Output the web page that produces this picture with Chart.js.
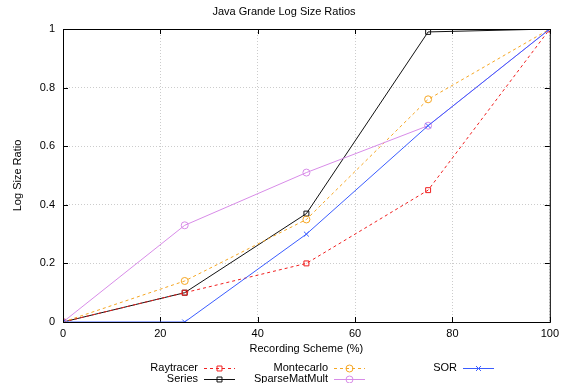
<!DOCTYPE html>
<html>
<head>
<meta charset="utf-8">
<script src="https://cdn.jsdelivr.net/npm/chart.js@4.4.0/dist/chart.umd.min.js"></script>
<style>
  html, body { margin: 0; padding: 0; background: #fff; }
  #wrap { width: 564px; height: 383px; }
</style>
</head>
<body>
<div id="wrap"><canvas id="chart1" width="564" height="383"></canvas></div>
<script>
// recording scheme (%) on x, log size ratio on y
const schemes = [0, 25, 50, 75, 100];
const raytracer = [0, 0.10, 0.20, 0.45, 1];
const series = [0, 0.10, 0.37, 0.99, 1];
const montecarlo = [0, 0.14, 0.35, 0.76, 1];
const sparseMatMult = [0, 0.33, 0.51, 0.67, 1];
const sor = [0, 0, 0.30, 0.67, 1];
const xTicks = [0, 20, 40, 60, 80, 100];
const yTicks = [0, 0.2, 0.4, 0.6, 0.8, 1];

const FONT = "'Liberation Sans', Arial, sans-serif";

function pts(ys) {
  return ys.map((y, i) => ({ x: schemes[i], y: y }));
}

function ds(label, ys, color, style, dashed, legend) {
  return {
    label: label,
    data: pts(ys),
    borderColor: color,
    backgroundColor: 'rgba(0,0,0,0)',
    borderWidth: 1,
    borderDash: dashed ? [3, 3] : [],
    pointStyle: style,
    pointRadius: 3.5,
    pointBorderWidth: 1,
    pointBorderColor: color,
    pointBackgroundColor: 'rgba(0,0,0,0)',
    tension: 0,
    legendPos: legend
  };
}

// legend slots gnuplot-style: text right aligned, then a sample line
const datasets = [
  ds('SOR', sor, '#3a5cff', 'crossRot', false, { tx: 457, y: 368 }),
  ds('SparseMatMult', sparseMatMult, '#d88ce8', 'circle', false, { tx: 328, y: 379 }),
  ds('Montecarlo', montecarlo, '#f5a623', 'circle', true, { tx: 328, y: 368 }),
  ds('Raytracer', raytracer, '#f02020', 'rect', true, { tx: 198, y: 368 }),
  ds('Series', series, '#111111', 'rect', false, { tx: 198, y: 379 })
];

const decor = {
  id: 'decor',
  beforeDatasetsDraw(chart) {
    const { ctx, chartArea: a, scales } = chart;
    ctx.save();
    // inward tick marks on all four sides
    ctx.strokeStyle = '#000';
    ctx.lineWidth = 1;
    ctx.beginPath();
    xTicks.forEach(v => {
      const x = Math.round(scales.x.getPixelForValue(v)) + 0.5;
      ctx.moveTo(x, a.bottom); ctx.lineTo(x, a.bottom - 5);
      ctx.moveTo(x, a.top); ctx.lineTo(x, a.top + 5);
    });
    yTicks.forEach(v => {
      const y = Math.round(scales.y.getPixelForValue(v)) + 0.5;
      ctx.moveTo(a.left, y); ctx.lineTo(a.left + 5, y);
      ctx.moveTo(a.right, y); ctx.lineTo(a.right - 5, y);
    });
    ctx.stroke();
    ctx.restore();
  },
  afterDraw(chart) {
    const { ctx, chartArea: a } = chart;
    ctx.save();
    ctx.fillStyle = '#000';
    ctx.font = '11px ' + FONT;
    ctx.textAlign = 'center';
    ctx.textBaseline = 'middle';
    ctx.fillText('Java Grande Log Size Ratios', 284, 12);
    ctx.fillText('Recording Scheme (%)', (a.left + a.right) / 2, 349);
    ctx.save();
    ctx.translate(18, (a.top + a.bottom) / 2);
    ctx.rotate(-Math.PI / 2);
    ctx.fillText('Log Size Ratio', 0, 0);
    ctx.restore();

    // border box
    ctx.strokeStyle = '#000';
    ctx.lineWidth = 1;
    ctx.strokeRect(a.left + 0.5, a.top + 0.5, a.right - a.left, a.bottom - a.top);

    // legend
    chart.data.datasets.forEach(d => {
      const p = d.legendPos;
      ctx.textAlign = 'right';
      ctx.fillStyle = '#000';
      ctx.fillText(d.label, p.tx, p.y);
      const x0 = p.tx + 6, x1 = p.tx + 37;
      ctx.strokeStyle = d.borderColor;
      ctx.setLineDash(d.borderDash);
      ctx.beginPath();
      ctx.moveTo(x0, p.y + 0.5); ctx.lineTo(x1, p.y + 0.5);
      ctx.stroke();
      ctx.setLineDash([]);
      ctx.fillStyle = 'rgba(0,0,0,0)';
      Chart.helpers.drawPoint(ctx, {
        pointStyle: d.pointStyle, radius: 3.5, rotation: 0, borderWidth: 1
      }, (x0 + x1) / 2, p.y + 0.5);
    });
    ctx.restore();
  }
};

const config = {
  type: 'line',
  data: { datasets: datasets },
  options: {
    responsive: false,
    animation: false,
    layout: { padding: { top: 29, right: 11, left: 0, bottom: 0 } },
    plugins: {
      legend: { display: false },
      title: { display: false },
      tooltip: { enabled: false }
    },
    scales: {
      x: {
        type: 'linear',
        min: 0, max: 100,
        afterFit: s => { s.height = 61; },
        afterBuildTicks: s => { s.ticks = xTicks.map(v => ({ value: v })); },
        grid: { color: '#cccccc', drawTicks: false },
        border: { display: false, dash: [1, 2] },
        ticks: { color: '#000', font: { family: FONT, size: 11 }, padding: 5, maxRotation: 0 }
      },
      y: {
        type: 'linear',
        min: 0, max: 1,
        afterFit: s => { s.width = 63; },
        afterBuildTicks: s => { s.ticks = yTicks.map(v => ({ value: v })); },
        grid: { color: '#cccccc', drawTicks: false },
        border: { display: false, dash: [1, 2] },
        ticks: {
          color: '#000', font: { family: FONT, size: 11 }, padding: 8,
          callback: v => String(Number(v.toFixed(1)))
        }
      }
    }
  },
  plugins: [decor]
};

const myChart = new Chart(document.getElementById('chart1'), config);
</script>
</body>
</html>
